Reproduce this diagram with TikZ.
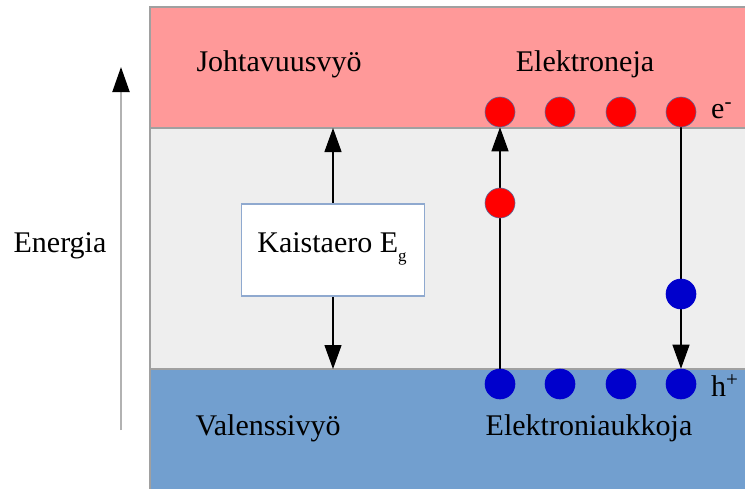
\documentclass[tikz,border=0pt]{standalone}
\usepackage{fontspec}
\setmainfont{Liberation Serif}
\newfontfamily\serifface{Liberation Serif}
\usetikzlibrary{arrows.meta}
\pgfdeclarelayer{bg}
\pgfdeclarelayer{lines}
\pgfsetlayers{bg,lines,main}
\definecolor{bandpink}{HTML}{FF9999}
\definecolor{bandgray}{HTML}{EEEEEE}
\definecolor{bandblue}{HTML}{729FCF}
\definecolor{edgegray}{HTML}{A0A0A0}
\definecolor{dotred}{HTML}{FF0000}
\definecolor{dotblue}{HTML}{0000CC}
\definecolor{dotedge}{HTML}{5A6A9A}
\definecolor{boxedge}{HTML}{8FA9CF}
\tikzset{
  lbl/.style={font=\serifface\fontsize{30}{34}\selectfont, anchor=base, inner sep=0pt},
  reddot/.style={circle, fill=dotred, draw=dotedge, line width=0.6pt, minimum size=30pt, inner sep=0pt},
  bluedot/.style={circle, fill=dotblue, draw=dotblue, line width=0.6pt, minimum size=30pt, inner sep=0pt},
  arr/.style={line width=1.3pt, -{Triangle[length=24pt,width=17pt]}},
  gapbox/.style={draw=boxedge, line width=1.2pt, fill=white, minimum width=183pt, minimum height=92pt, inner sep=0pt},
}
\begin{document}
\begin{tikzpicture}[x=1pt,y=-1pt]
\useasboundingbox (0,0) rectangle (745,488);
\begin{pgfonlayer}{bg}
\fill[white] (0,0) rectangle (745,488);
\fill[bandpink] (150,7) rectangle (746,128);
\fill[bandgray] (150,128) rectangle (746,369);
\fill[bandblue] (150,369) rectangle (746,489);
\draw[edgegray, line width=1.2pt] (746,7) -- (150,7) -- (150,489);
\draw[edgegray, line width=1.2pt] (150,128) -- (746,128);
\draw[edgegray, line width=1.2pt] (150,369) -- (746,369);
\end{pgfonlayer}
% energy axis
\coordinate (e0) at (121,430);
\coordinate (e1) at (121,67);
\draw[line width=2pt, draw=black!30, -{Triangle[length=25pt,width=17pt,color=black]}] (e0) -- (e1);
\node[lbl] (energia) at (60,252) {Energia};
% band labels
\node[lbl] (cb) at (279,71) {Johtavuusvyö};
\node[lbl] (el) at (585,71) {Elektroneja};
\node[lbl] (vb) at (268,435) {Valenssivyö};
\node[lbl] (ho) at (589,435) {Elektroniaukkoja};
% gap box
\node[gapbox] (box) at (333,250) {};
\node[lbl] (boxtxt) at (332,252) {Kaistaero E\raisebox{-9pt}{\fontsize{17}{17}\selectfont g}};
\coordinate (ctop) at (333,128);
\coordinate (cbot) at (333,369);
\begin{pgfonlayer}{lines}
\draw[arr] (box.north) -- (ctop);
\draw[arr] (box.south) -- (cbot);
\end{pgfonlayer}
% electrons
\node[reddot] (r1) at (500,112) {};
\node[reddot] (r2) at (560,112) {};
\node[reddot] (r3) at (621,112) {};
\node[reddot] (r4) at (681,112) {};
\node[reddot] (rm) at (500,203) {};
% holes
\node[bluedot] (b1) at (500,384) {};
\node[bluedot] (b2) at (560,384) {};
\node[bluedot] (b3) at (621,384) {};
\node[bluedot] (b4) at (681,384) {};
\node[bluedot] (bm) at (681,294) {};
\begin{pgfonlayer}{lines}
\draw[arr] (b1) -- (r1);
\draw[arr] (r4) -- (b4);
\end{pgfonlayer}
\node[lbl, anchor=base west] (em) at (711,118) {e\textsuperscript{-}};
\node[lbl, anchor=base west] (hp) at (711,396) {h\textsuperscript{+}};
\end{tikzpicture}
\end{document}
